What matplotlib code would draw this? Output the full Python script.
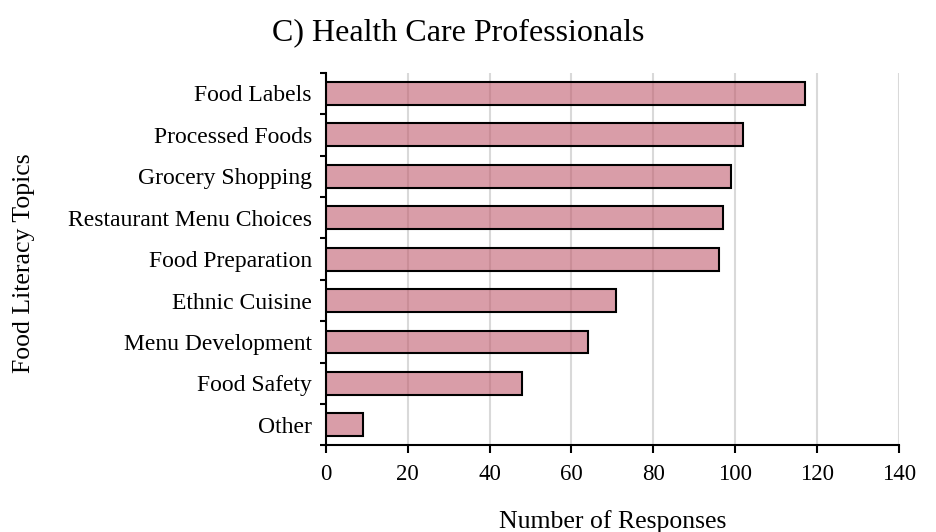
import matplotlib
matplotlib.use("Agg")
import matplotlib.pyplot as plt
import numpy as np

plt.rcParams['font.family'] = ['Liberation Serif', 'DejaVu Serif']

topics = ['Food Labels', 'Processed Foods', 'Grocery Shopping',
          'Restaurant Menu Choices', 'Food Preparation', 'Ethnic Cuisine',
          'Menu Development', 'Food Safety', 'Other']
responses = [117, 102, 99, 97, 96, 71, 64, 48, 9]
x_ticks = [0, 20, 40, 60, 80, 100, 120, 140]

fig = plt.figure(figsize=(9.36, 5.32), dpi=100)
ax = fig.add_axes([0.348, 0.1626, 0.6125, 0.7007])

y = np.arange(len(topics))[::-1]
ax.barh(y, responses, height=0.55, facecolor=(0.753, 0.361, 0.431, 0.6),
        edgecolor='black', linewidth=1.5, zorder=3)

ax.set_xlim(0, 140)
ax.set_ylim(-0.5, len(topics) - 0.5)
ax.set_xticks(x_ticks)
ax.set_xticklabels([str(t) for t in x_ticks])

# category labels sit between the boundary tick marks
ax.set_yticks(np.arange(len(topics) + 1) - 0.5)
ax.set_yticklabels([])
ax.set_yticks(y, minor=True)
ax.set_yticklabels(topics, minor=True)
ax.tick_params(axis='y', which='minor', length=0, pad=10, labelsize=17)
ax.tick_params(axis='y', which='major', length=4.5, width=1.5, direction='out')
ax.tick_params(axis='x', length=5.5, width=1.5, labelsize=16.5, pad=8)

ax.grid(axis='x', color='#d9d9d9', linewidth=1.5, zorder=0)
ax.set_axisbelow(True)
for side in ['top', 'right']:
    ax.spines[side].set_visible(False)
for side in ['left', 'bottom']:
    ax.spines[side].set_linewidth(1.5)

ax.set_xlabel('Number of Responses', fontsize=18.5, labelpad=18)
fig.text(24 / 936, 0.506, 'Food Literacy Topics', fontsize=18.5,
         rotation=90, ha='center', va='center')
fig.suptitle('C) Health Care Professionals', fontsize=23, x=0.49, y=0.965)

fig.savefig('out.png', dpi=100)
